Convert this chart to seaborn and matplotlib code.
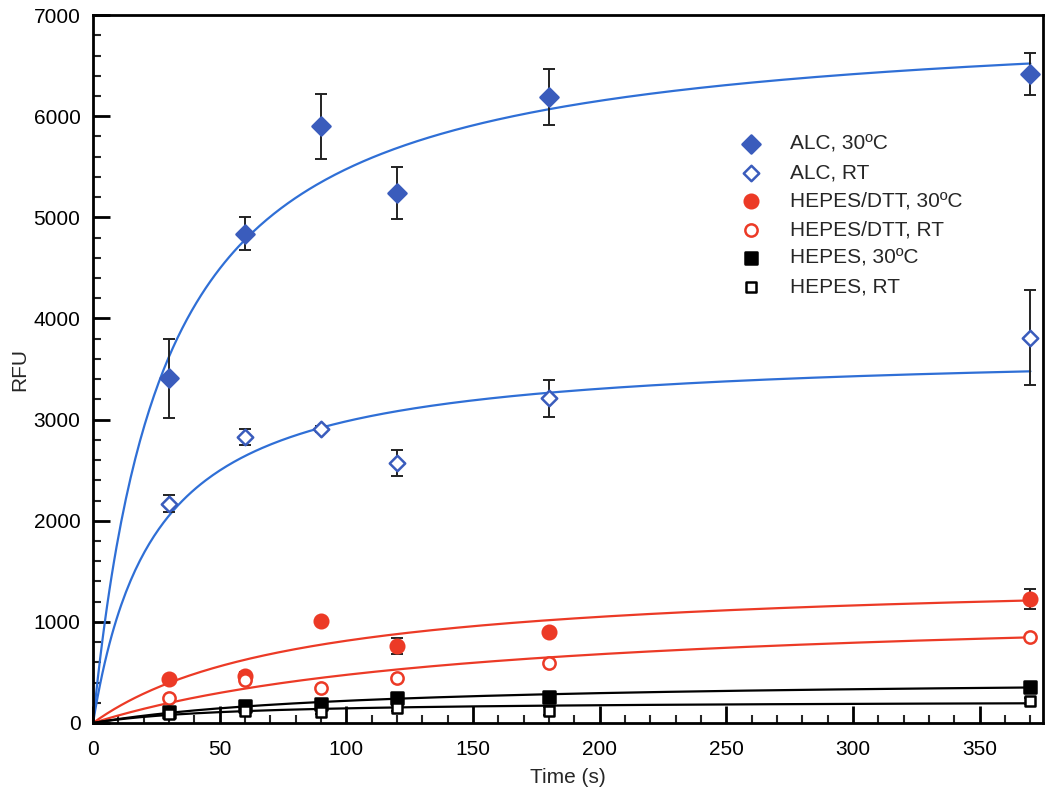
import numpy as np
import pandas as pd
import matplotlib
matplotlib.use("Agg")
import matplotlib.pyplot as plt
import seaborn as sns
from matplotlib.ticker import MultipleLocator

# ---------------- data ----------------
time_s = [30, 60, 90, 120, 180, 370]

series_labels = ["ALC, 30ºC", "ALC, RT", "HEPES/DTT, 30ºC",
                 "HEPES/DTT, RT", "HEPES, 30ºC", "HEPES, RT"]

alc_30 = [3410, 4840, 5900, 5240, 6190, 6420]
alc_30_err = [390, 160, 320, 260, 280, 210]

alc_rt = [2170, 2830, 2910, 2570, 3210, 3810]
alc_rt_err = [80, 80, 30, 130, 185, 470]

hepes_dtt_30 = [435, 465, 1010, 760, 900, 1225]
hepes_dtt_30_err = [20, 40, 30, 80, 30, 95]

hepes_dtt_rt = [245, 425, 345, 445, 590, 850]
hepes_dtt_rt_err = [20, 20, 20, 20, 20, 20]

hepes_30 = [110, 165, 190, 245, 260, 360]
hepes_30_err = [25, 30, 30, 50, 30, 30]

hepes_rt = [85, 115, 110, 150, 120, 220]
hepes_rt_err = [20, 20, 20, 30, 40, 30]

# one-site saturation fit parameters (Bmax, K) of the drawn curves
fit_bmax = [7017, 3705, 1480, 1190, 451, 223]
fit_k = [28.1, 24.2, 82, 150, 105.6, 54]

values = [alc_30, alc_rt, hepes_dtt_30, hepes_dtt_rt, hepes_30, hepes_rt]
errors = [alc_30_err, alc_rt_err, hepes_dtt_30_err, hepes_dtt_rt_err,
          hepes_30_err, hepes_rt_err]

# ---------------- styles ----------------
blue_pt = "#3a5cbc"
blue_ln = "#2f6fd6"
red = "#ec3a26"
black = "#000000"
marker_colors = [blue_pt, blue_pt, red, red, black, black]
line_colors = [blue_ln, blue_ln, red, red, black, black]
markers = ["D", "D", "o", "o", "s", "s"]
filled = [True, False, True, False, True, False]
msizes = [85, 62, 95, 78, 78, 58]

sns.set_style("white")
plt.rcParams["font.family"] = ["Liberation Sans", "DejaVu Sans"]

fig = plt.figure(figsize=(10.5, 7.95), dpi=100)
ax = fig.add_axes([0.0886, 0.0906, 0.9048, 0.8904])

points = pd.DataFrame({
    "time": np.tile(time_s, len(series_labels)),
    "rfu": np.concatenate(values),
    "err": np.concatenate(errors),
    "series": np.repeat(series_labels, len(time_s)),
})

x_fit = np.linspace(0, 370, 400)
curves = pd.DataFrame({
    "time": np.tile(x_fit, len(series_labels)),
    "rfu": np.concatenate([b * x_fit / (k + x_fit) for b, k in zip(fit_bmax, fit_k)]),
    "series": np.repeat(series_labels, len(x_fit)),
})

for i, lab in enumerate(series_labels):
    c = curves[curves.series == lab]
    sns.lineplot(data=c, x="time", y="rfu", ax=ax, color=line_colors[i],
                 linewidth=1.6, zorder=2, legend=False, label="_nolegend_")

for i, lab in enumerate(series_labels):
    p = points[points.series == lab]
    ax.errorbar(p["time"], p["rfu"], yerr=p["err"], fmt="none",
                ecolor="#222222", elinewidth=1.4, capsize=4.3, capthick=1.4,
                zorder=3)
    face = marker_colors[i] if filled[i] else "white"
    sns.scatterplot(data=p, x="time", y="rfu", ax=ax, marker=markers[i],
                    s=msizes[i], color=face, edgecolor=marker_colors[i],
                    linewidth=1.8, zorder=4, label=lab)

ax.set_xlim(0, 375)
ax.set_ylim(0, 7000)
ax.xaxis.set_major_locator(MultipleLocator(50))
ax.xaxis.set_minor_locator(MultipleLocator(10))
ax.yaxis.set_major_locator(MultipleLocator(1000))
ax.yaxis.set_minor_locator(MultipleLocator(200))

for s in ax.spines.values():
    s.set_linewidth(2)
    s.set_color("black")
ax.tick_params(which="major", direction="in", length=12, width=2,
               labelsize=15, top=False, right=False,
               bottom=True, left=True, colors="black")
ax.tick_params(axis="x", which="major", pad=12)
ax.tick_params(axis="y", which="major", pad=9)
ax.tick_params(which="minor", direction="in", length=6, width=1.5,
               top=False, right=False, bottom=True, left=True)

ax.set_xlabel("Time (s)", fontsize=15, labelpad=7)
ax.set_ylabel("RFU", fontsize=15, labelpad=3)

leg = ax.legend(loc="upper left", bbox_to_anchor=(0.666, 0.852), frameon=False,
                fontsize=15, labelspacing=0.46, handlelength=1.0,
                handletextpad=1.4, borderpad=0.2)

fig.savefig("out.png", dpi=100)
